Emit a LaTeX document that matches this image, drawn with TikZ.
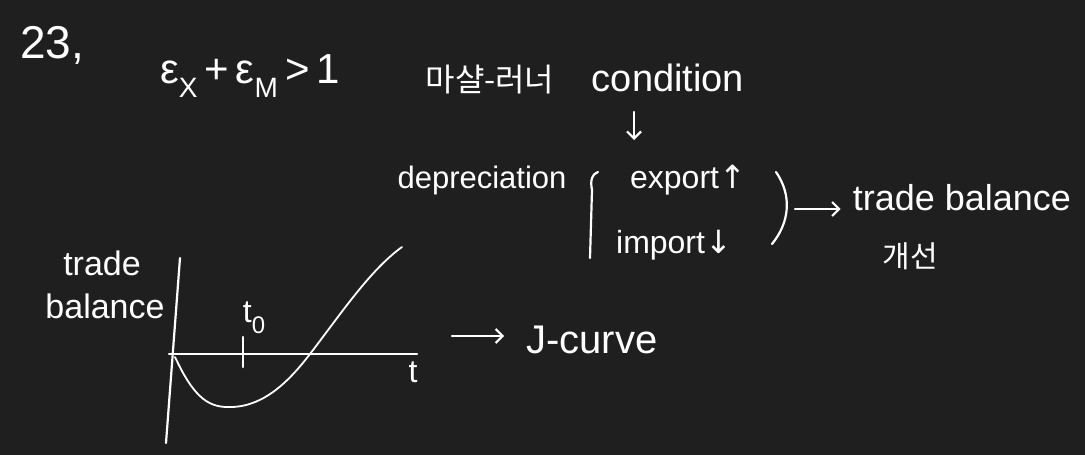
\documentclass[tikz,border=0pt]{standalone}
\usepackage{fontspec}
\setmainfont{Liberation Sans}
\newfontfamily\krfont{Noto Sans CJK KR}
\newfontfamily\symfont{DejaVu Sans}
\usetikzlibrary{arrows.meta}
\definecolor{bg}{HTML}{1F1F1F}
\newcommand\fsz[1]{\fontsize{#1}{#1}\selectfont}
\newcommand\lowsub[2]{\raisebox{-0.35em}{\fsz{#1}#2}}
\begin{document}
\begin{tikzpicture}[x=1pt,y=-1pt,
  txt/.style={text=white,inner sep=0pt,anchor=center},
  ink/.style={draw=white,line width=2.2pt,line cap=round,line join=round},
  arr/.style={ink,-{Straight Barb[length=7pt,width=14pt,line width=2.2pt]}}]
\fill[bg] (0,0) rectangle (1085,455);
\useasboundingbox (0,0) rectangle (1085,455);
% heading
\node[txt] (num) at (52,45) {\fsz{46}23,};
\node[txt] (cond) at (250,76) {\fsz{42}ε\lowsub{28}{X}\,+\,ε\lowsub{28}{M}\,>\,1};
\node[txt] (ml) at (490,80) {\krfont\fsz{32}마샬-러너};
\node[txt] (cn) at (668,78) {\fsz{38}condition};
\coordinate (d1) at (634,112);
\coordinate (d2) at (634,140);
\draw[arr] (d1) -- (d2);
% depreciation block
\node[txt] (dep) at (482,180) {\fsz{31}depreciation};
\node[txt] (exp) at (688,180) {\fsz{32}export{\symfont↑}};
\node[txt] (imp) at (674,245) {\fsz{32}import{\symfont↓}};
\coordinate (b1) at (598,172);
\coordinate (b2) at (590,258);
\draw[ink] (b1) .. controls (592,174) and (590,180) .. (592,190) -- (b2);
\coordinate (p1) at (776,172);
\coordinate (p2) at (772,244);
\draw[ink] (p1) .. controls (792,195) and (790,222) .. (p2);
\coordinate (a1) at (795,209);
\node[txt] (tb) at (962,198) {\fsz{36}trade balance};
\node[txt] (gs) at (910,256) {\krfont\fsz{30}개선};
\draw[arr] (a1) -- ([xshift=-12pt]tb.west |- a1);
% graph
\node[txt] (yl1) at (102,263) {\fsz{34}trade};
\node[txt] (yl2) at (105,306) {\fsz{34}balance};
\coordinate (yt) at (180,258);
\coordinate (yb) at (166,443);
\coordinate (xo) at (169,354);
\coordinate (xe) at (417,354);
\draw[ink] (yt) -- (yb);
\draw[ink] (xo) -- (xe);
\coordinate (k1) at (243,337);
\coordinate (k2) at (243,367);
\draw[ink] (k1) -- (k2);
\node[txt] (t0) at (254,318) {\fsz{32}t\lowsub{24}{0}};
\node[txt] (tx) at (413,372) {\fsz{32}t};
\draw[ink,line width=1.8pt] (175,357) .. controls (195,400) and (210,408) .. (232,407)
  .. controls (265,406) and (290,380) .. (310,354)
  .. controls (340,315) and (370,270) .. (402,247);
% J-curve
\coordinate (j1) at (452,336);
\node[txt] (jc) at (592,340) {\fsz{40}J-curve};
\draw[arr] (j1) -- ([xshift=-22pt]jc.west |- j1);
\end{tikzpicture}
\end{document}
